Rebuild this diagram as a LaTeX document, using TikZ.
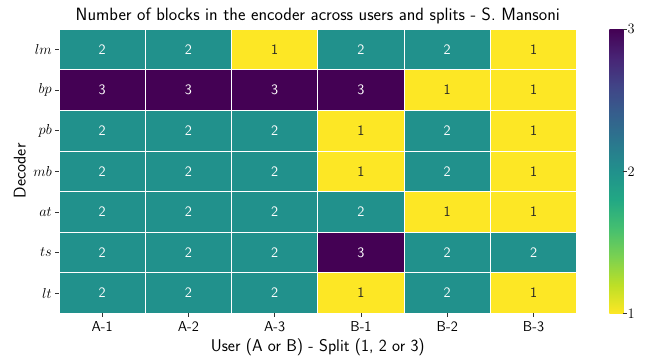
\documentclass[tikz,border=0pt]{standalone}
\usetikzlibrary{calc}
\definecolor{vA}{HTML}{FDE725}
\definecolor{vB}{HTML}{21918C}
\definecolor{vC}{HTML}{440154}
\definecolor{tA}{HTML}{262626}
\definecolor{tB}{HTML}{FFFFFF}
\definecolor{tC}{HTML}{FFFFFF}
\definecolor{w0}{HTML}{FDE725}
\definecolor{w1}{HTML}{BDDF26}
\definecolor{w2}{HTML}{7AD151}
\definecolor{w3}{HTML}{44BF70}
\definecolor{w4}{HTML}{22A884}
\definecolor{w5}{HTML}{21918C}
\definecolor{w6}{HTML}{2A788E}
\definecolor{w7}{HTML}{355F8D}
\definecolor{w8}{HTML}{414487}
\definecolor{w9}{HTML}{482475}
\definecolor{w10}{HTML}{440154}
\pgfdeclareverticalshading{viridis}{100bp}{color(0bp)=(w0); color(25bp)=(w0); color(30bp)=(w1); color(35bp)=(w2); color(40bp)=(w3); color(45bp)=(w4); color(50bp)=(w5); color(55bp)=(w6); color(60bp)=(w7); color(65bp)=(w8); color(70bp)=(w9); color(75bp)=(w10); color(100bp)=(w10)}
\tikzset{
  cell/.style={draw=white, line width=0.9pt, minimum width=86.28pt, minimum height=40.6pt, inner sep=0pt, font=\sffamily\fontsize{14.4}{16}\selectfont},
  ticklab/.style={font=\sffamily\fontsize{14.4}{16}\selectfont, inner sep=0pt},
  ylab/.style={font=\fontsize{14.8}{16}\selectfont, inner sep=0pt},
  axlab/.style={font=\sffamily\fontsize{17}{19}\selectfont, inner sep=0pt},
  cblab/.style={font=\fontsize{14.4}{16}\selectfont, inner sep=0pt, anchor=west},
  tickmark/.style={line width=0.6pt, black!80}
}
\begin{document}
\begin{tikzpicture}[x=1pt,y=-1pt]
\useasboundingbox (0,0) rectangle (648,358);
\def\L{59}\def\T{29.2}\def\W{86.28}\def\H{40.6}
% rows
\foreach \lab [count=\r] in {lm,bp,pb,mb,at,ts,lt}{
  \node[ylab, anchor=east] (y\r) at (\L-7, {\T+(\r-0.5)*\H}) {$\lab$};
  \draw[tickmark] (\L-4, {\T+(\r-0.5)*\H}) -- (\L, {\T+(\r-0.5)*\H});
}
\foreach \vals [count=\r] in {{B,B,A,B,B,A},{C,C,C,C,A,A},{B,B,B,A,B,A},{B,B,B,A,B,A},{B,B,B,B,A,A},{B,B,B,C,B,B},{B,B,B,A,B,A}}{
  \foreach \v [count=\c] in \vals {
    \node[cell, fill=v\v, text=t\v] (c\r-\c) at ({\L+(\c-0.5)*\W}, {\T+(\r-0.5)*\H})
      {\if A\v 1\else\if B\v 2\else 3\fi\fi};
  }
}
% x ticks
\foreach \lab [count=\c] in {A-1,A-2,A-3,B-1,B-2,B-3}{
  \draw[tickmark] ({\L+(\c-0.5)*\W}, 313.4) -- ({\L+(\c-0.5)*\W}, 317);
  \node[ticklab, anchor=base] (x\c) at ({\L+(\c-0.5)*\W}, 331) {\lab};
}
\node[axlab, anchor=base] (xl) at (317.8, 351.5) {User (A or B) - Split (1, 2 or 3)};
\node[axlab, rotate=90, anchor=base] (yl) at (25.5, 171) {Decoder};
\node[font=\sffamily\fontsize{17.8}{20}\selectfont, inner sep=0pt, anchor=base] (title) at (317.8, 20.7) {Number of blocks in the encoder across users and splits - S. Mansoni};
% colorbar
\shade[shading=viridis] (609.3,29.2) rectangle (623.3,313.4);
\node[inner sep=0pt, minimum width=14pt, minimum height=284.2pt] (cb) at (616.3,171.3) {};
\foreach \val/\yy in {3/29.2,2/171.3,1/313.4}{
  \draw[tickmark] (623.3,\yy) -- (626.8,\yy);
  \node[cblab] (cbl\val) at (627.5,\yy) {\val};
}
\end{tikzpicture}
\end{document}
